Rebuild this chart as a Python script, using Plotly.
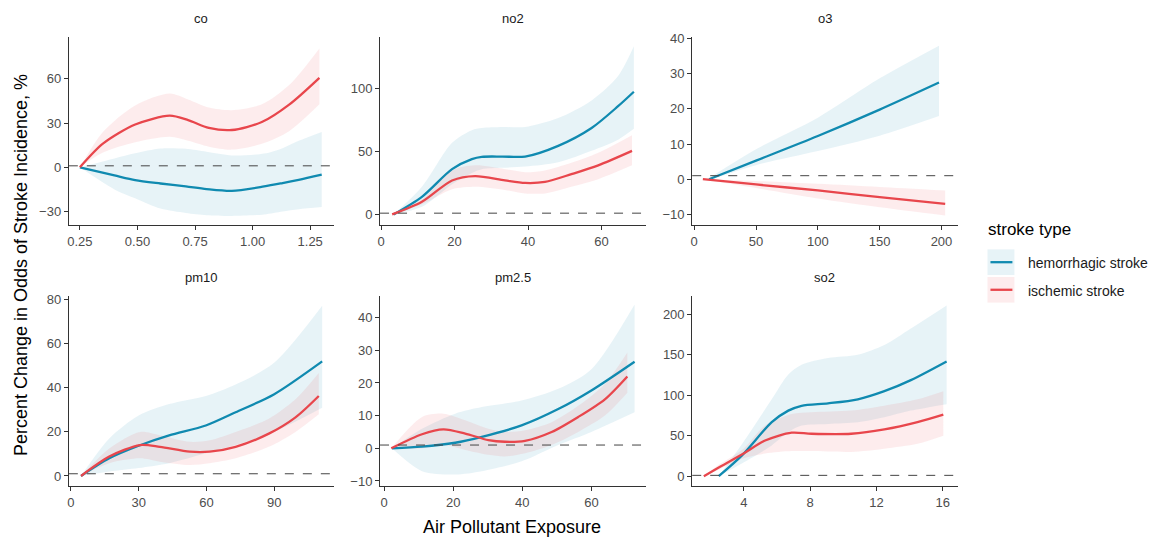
import plotly.graph_objects as go

W, H = 1171, 548

# ---------------- data ----------------
panels = ["co", "no2", "o3", "pm10", "pm2.5", "so2"]
series_names = ["hemorrhagic stroke", "ischemic stroke"]

co_hem_x = [0.25, 0.40, 0.49, 0.60, 0.71, 0.80, 0.91, 1.05, 1.13, 1.20, 1.30]
co_hem_y = [0, -5.5, -8.7, -11, -13, -14.8, -16, -13, -10.7, -8.5, -5]
co_hem_lo = [0, -15, -21, -28, -31, -32.5, -33, -32, -30, -28.5, -27]
co_hem_hi = [0, 6, 9.5, 12.7, 12.5, 10.5, 8, 9.3, 13, 18, 24]
co_isc_x = [0.25, 0.35, 0.49, 0.64, 0.72, 0.81, 0.91, 1.04, 1.16, 1.29]
co_isc_y = [0, 16, 29, 35, 32, 26.7, 25.3, 30.7, 42.7, 60.7]
co_isc_lo = [0, 10, 17, 20.7, 18, 14, 12, 16, 24.7, 42.7]
co_isc_hi = [0, 24, 42, 50, 46, 40.5, 38.7, 42.7, 56, 80.6]

no2_hem_x = [3.4, 11.1, 19.3, 24.7, 27.4, 33, 39.2, 48.2, 57.3, 64.5, 68.8]
no2_hem_y = [0, 14, 36, 44, 45.8, 46, 46, 54.5, 68.7, 86, 97.5]
no2_hem_lo = [0, 6, 24, 33, 36, 37, 38, 41.4, 50.6, 59.4, 68]
no2_hem_hi = [0, 22, 57, 67, 68.7, 69.5, 69.5, 76.6, 90.6, 110, 133.6]
no2_isc_x = [3, 11.1, 19.3, 25.6, 33.7, 39.2, 44.6, 51.8, 59.1, 68.3]
no2_isc_y = [0, 10, 27, 30.5, 27, 25, 25.8, 32, 39, 50.5]
no2_isc_lo = [0, 8, 20, 22, 19.5, 16.7, 16.7, 22, 28, 39]
no2_isc_hi = [0, 12, 35, 39, 36, 33.6, 35, 41, 49, 63]

o3_hem_x = [12, 50, 100, 150, 198]
o3_hem_y = [0, 5.3, 12.3, 19.8, 27.5]
o3_hem_lo = [-0.3, 4, 8, 12.4, 18]
o3_hem_hi = [0.3, 8.5, 17.5, 28.7, 38]
o3_isc_x = [7, 50, 100, 150, 203]
o3_isc_y = [0, -1.5, -3.2, -5.1, -7]
o3_isc_lo = [0, -2.5, -5.5, -8, -10.3]
o3_isc_hi = [0, -0.5, -1.3, -2.2, -3.2]

pm10_hem_x = [4.5, 17, 30, 43.5, 59.7, 72.9, 89.8, 111.2]
pm10_hem_y = [0, 8, 13.7, 18.4, 22.9, 28.9, 37, 52]
pm10_hem_lo = [0, 2, 3.6, 5.8, 10.3, 14, 20, 31]
pm10_hem_hi = [0, 17, 27.4, 32.6, 36.3, 41.5, 51.2, 77.2]
pm10_isc_x = [4.5, 17, 30.6, 39.4, 52.6, 61.4, 72.9, 87.6, 99.4, 109.7]
pm10_isc_y = [0, 8.8, 14, 13.2, 11, 11, 13.2, 19.2, 26.6, 36.3]
pm10_isc_lo = [0, 5.8, 8, 6.5, 5, 5.8, 8, 13.2, 20, 28]
pm10_isc_hi = [0, 12.5, 20, 18.5, 15.5, 16.2, 20, 26, 34.8, 46.7]

pm25_hem_x = [2.3, 11, 20.6, 28.3, 39.8, 50.4, 60, 72.5]
pm25_hem_y = [0, 0.5, 1.7, 3.5, 7, 12, 17.7, 26.5]
pm25_hem_lo = [0, -7, -8, -7, -4, 1, 5, 11]
pm25_hem_hi = [0, 6, 10.6, 12.6, 14.6, 18.2, 24.2, 44]
pm25_isc_x = [2.1, 11, 17.2, 23.5, 30.2, 35, 40.8, 48.5, 56.2, 63.9, 70.4]
pm25_isc_y = [0, 4.3, 5.8, 4.5, 2.5, 2, 2.3, 5, 9.6, 15, 22]
pm25_isc_lo = [0, 0, 1, -0.5, -2, -2.5, -1.5, 1, 5, 10, 17]
pm25_isc_hi = [0, 9.6, 10.6, 8.6, 6, 5, 5.5, 8, 13, 19.7, 29.3]

so2_hem_x = [2.48, 3.9, 5.68, 6.68, 7.48, 9.08, 10.88, 12.48, 14.08, 16.24]
so2_hem_y = [0, 26, 66.7, 81, 87, 90, 95, 105, 118.7, 141.8]
so2_hem_lo = [0, 16, 38, 54.5, 62.6, 64.6, 66.7, 72.8, 81, 89]
so2_hem_hi = [0, 40, 95, 125.6, 137.8, 146, 150, 162, 182.5, 211]
so2_isc_x = [1.58, 2.48, 3.98, 5.28, 6.88, 8.08, 10.48, 12.48, 14.48, 16.04]
so2_isc_y = [0, 10.6, 28, 44, 53.7, 52.4, 52.4, 57.7, 66.7, 76]
so2_isc_lo = [0, 8, 22, 28, 31, 31, 30, 34, 40, 50]
so2_isc_hi = [0, 14, 34, 62.6, 76.8, 78.9, 81, 87, 95, 105]

ref_line = 1

x_ticks = {
    "co": [0.25, 0.50, 0.75, 1.00, 1.25],
    "no2": [0, 20, 40, 60],
    "o3": [0, 50, 100, 150, 200],
    "pm10": [0, 30, 60, 90],
    "pm2.5": [0, 20, 40, 60],
    "so2": [4, 8, 12, 16],
}
y_ticks = {
    "co": [-30, 0, 30, 60],
    "no2": [0, 50, 100],
    "o3": [-10, 0, 10, 20, 30, 40],
    "pm10": [0, 20, 40, 60, 80],
    "pm2.5": [-10, 0, 10, 20, 30, 40],
    "so2": [0, 50, 100, 150, 200],
}

# ---------------- styling / layout ----------------
data = {
    "co": [(co_hem_x, co_hem_y, co_hem_lo, co_hem_hi), (co_isc_x, co_isc_y, co_isc_lo, co_isc_hi)],
    "no2": [(no2_hem_x, no2_hem_y, no2_hem_lo, no2_hem_hi), (no2_isc_x, no2_isc_y, no2_isc_lo, no2_isc_hi)],
    "o3": [(o3_hem_x, o3_hem_y, o3_hem_lo, o3_hem_hi), (o3_isc_x, o3_isc_y, o3_isc_lo, o3_isc_hi)],
    "pm10": [(pm10_hem_x, pm10_hem_y, pm10_hem_lo, pm10_hem_hi), (pm10_isc_x, pm10_isc_y, pm10_isc_lo, pm10_isc_hi)],
    "pm2.5": [(pm25_hem_x, pm25_hem_y, pm25_hem_lo, pm25_hem_hi), (pm25_isc_x, pm25_isc_y, pm25_isc_lo, pm25_isc_hi)],
    "so2": [(so2_hem_x, so2_hem_y, so2_hem_lo, so2_hem_hi), (so2_isc_x, so2_isc_y, so2_isc_lo, so2_isc_hi)],
}
x_ranges = {"co": [0.202, 1.354], "no2": [-0.3, 72.2], "o3": [-1.6, 213],
            "pm10": [-0.9, 116.5], "pm2.5": [-1.15, 75.9], "so2": [0.88, 16.9]}
y_ranges = {"co": [-39.3, 88.7], "no2": [-8.6, 141.4], "o3": [-13.1, 40.6],
            "pm10": [-4.5, 81.8], "pm2.5": [-11.5, 46.7], "so2": [-12, 223]}

line_colors = ["rgb(16,138,176)", "rgb(232,70,76)"]
fill_colors = ["rgba(16,138,176,0.10)", "rgba(232,70,76,0.10)"]

col_px = [(66, 332), (378, 645), (691, 957)]
row_px = [(32, 223.5), (295, 488)]
FONT = "Liberation Sans, Arial, sans-serif"

fig = go.Figure()
layout = dict(width=W, height=H, margin=dict(l=0, r=0, t=0, b=0),
              plot_bgcolor="white", paper_bgcolor="white", showlegend=False,
              font=dict(family=FONT))
annotations = []
shapes = []

for i, p in enumerate(panels):
    r, c = divmod(i, 3)
    n = "" if i == 0 else str(i + 1)
    xa, ya = "x" + n, "y" + n
    x0, x1 = col_px[c]
    y0, y1 = row_px[r]
    axis_common = dict(showline=True, linecolor="#333333", linewidth=1.1,
                       ticks="outside", ticklen=4, tickwidth=1.1, tickcolor="#333333",
                       tickfont=dict(size=13, color="#4D4D4D", family=FONT),
                       showgrid=False, zeroline=False, fixedrange=True)
    layout["xaxis" + n] = dict(domain=[x0 / W, x1 / W], anchor=ya, range=x_ranges[p],
                               tickvals=x_ticks[p],
                               tickformat=".2f" if p == "co" else "", **axis_common)
    layout["yaxis" + n] = dict(domain=[1 - y1 / H, 1 - y0 / H], anchor=xa, range=y_ranges[p],
                               tickvals=y_ticks[p], **axis_common)
    # ribbons (lower bound, then upper bound filled down to it)
    for k, (sx, sy, lo, hi) in enumerate(data[p]):
        fig.add_trace(go.Scatter(x=sx, y=lo, mode="lines",
                                 line=dict(width=0, shape="spline", smoothing=0.8),
                                 hoverinfo="skip", xaxis=xa, yaxis=ya,
                                 name=series_names[k] + " lower"))
        fig.add_trace(go.Scatter(x=sx, y=hi, mode="lines", fill="tonexty",
                                 fillcolor=fill_colors[k],
                                 line=dict(width=0, shape="spline", smoothing=0.8),
                                 hoverinfo="skip", xaxis=xa, yaxis=ya,
                                 name=series_names[k] + " upper"))
    # reference line
    shapes.append(dict(type="line", xref=xa + " domain", yref=ya, x0=0, x1=1,
                       y0=ref_line, y1=ref_line,
                       line=dict(color="#444444", width=1, dash="dash")))
    # lines
    for k, (sx, sy, lo, hi) in enumerate(data[p]):
        fig.add_trace(go.Scatter(x=sx, y=sy, mode="lines",
                                 line=dict(color=line_colors[k], width=2.3,
                                           shape="spline", smoothing=0.8),
                                 xaxis=xa, yaxis=ya, name=series_names[k]))
    # panel title
    annotations.append(dict(text=p, xref="paper", yref="paper",
                            x=(x0 + x1) / 2 / W, y=1 - (14 if r == 0 else 277) / H,
                            xanchor="center", yanchor="middle", showarrow=False,
                            font=dict(size=13, color="#1A1A1A", family=FONT)))

# axis titles
annotations.append(dict(text="Air Pollutant Exposure", xref="paper", yref="paper",
                        x=510 / W, y=1 - 530 / H, xanchor="center", yanchor="middle",
                        showarrow=False, font=dict(size=18, color="#000000", family=FONT)))
annotations.append(dict(text="Percent Change in Odds of Stroke Incidence, %", xref="paper",
                        yref="paper", x=18 / W, y=1 - 264 / H, xanchor="center",
                        yanchor="middle", textangle=-90, showarrow=False,
                        font=dict(size=18, color="#000000", family=FONT)))

# legend (manual, ggplot style)
annotations.append(dict(text="stroke type", xref="paper", yref="paper",
                        x=986 / W, y=1 - 228 / H, xanchor="left", yanchor="middle",
                        showarrow=False, font=dict(size=17, color="#000000", family=FONT)))
key_tops = [248, 276]
for k, name in enumerate(series_names):
    t = key_tops[k]
    shapes.append(dict(type="rect", xref="paper", yref="paper",
                       x0=987 / W, x1=1014 / W, y0=1 - (t + 26) / H, y1=1 - t / H,
                       fillcolor=fill_colors[k], line=dict(width=0)))
    shapes.append(dict(type="line", xref="paper", yref="paper",
                       x0=990 / W, x1=1012 / W, y0=1 - (t + 13) / H, y1=1 - (t + 13) / H,
                       line=dict(color=line_colors[k], width=2.3)))
    annotations.append(dict(text=name, xref="paper", yref="paper",
                            x=1026 / W, y=1 - (t + 14) / H, xanchor="left", yanchor="middle",
                            showarrow=False, font=dict(size=14, color="#1A1A1A", family=FONT)))

layout["annotations"] = annotations
layout["shapes"] = shapes
fig.update_layout(**layout)
fig.write_html("out.html")
